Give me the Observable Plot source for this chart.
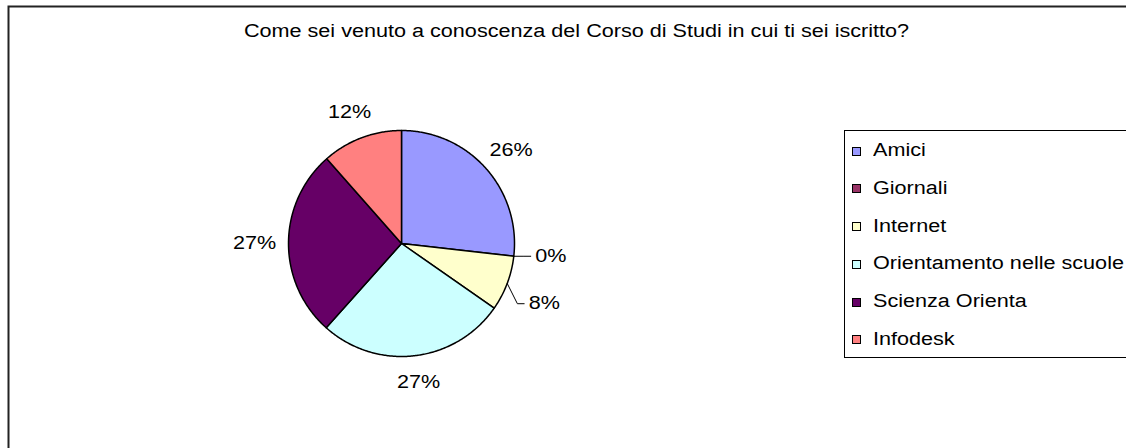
<!DOCTYPE html>
<html>
<head>
<meta charset="utf-8">
<script src="https://cdn.jsdelivr.net/npm/d3@7"></script>
<script src="https://cdn.jsdelivr.net/npm/@observablehq/plot@0.6"></script>
<style>
  body { margin: 0; background: #fff; }
  #wrap { position: relative; width: 1126px; height: 448px; overflow: hidden; background: #fff;
          font-family: "Liberation Sans", Arial, sans-serif; }
  #wrap svg { position: absolute; left: 0; top: 0; overflow: visible; }
  #legend { position: absolute; left: 844px; top: 130px; width: 320px; height: 225px;
            border: 1px solid #000; background: #fff; padding-top: 1px; box-sizing: content-box; }
  .row { position: relative; height: 37.8px; line-height: 37.8px; white-space: nowrap; }
  .sw { position: absolute; left: 7px; top: 14.5px; width: 7px; height: 7px; border: 1px solid #000; }
  .lbl { position: absolute; left: 28px; top: 0; font-size: 18px; color: #000;
         display: inline-block; transform: scaleX(1.2); transform-origin: left center; }
</style>
</head>
<body>
<div id="wrap"><div id="legend"></div></div>
<script>
const title = "Come sei venuto a conoscenza del Corso di Studi in cui ti sei iscritto?";
const categories = ["Amici", "Giornali", "Internet", "Orientamento nelle scuole", "Scienza Orienta", "Infodesk"];
const values = [26.8, 0, 7.9, 26.9, 26.9, 11.5];
const pctLabels = ["26%", "0%", "8%", "27%", "27%", "12%"];
const colors = ["#9999FF", "#993366", "#FFFFCC", "#CCFFFF", "#660066", "#FF8080"];

// layout
const W = 1126, H = 448, CX = 401, CY = 243, R = 113;
const STRETCH = 1.2;

const arcs = d3.pie().sort(null).value(d => d)(values);

// slice polygons (unit radius, y up)
const polys = [];
arcs.forEach((a, i) => {
  if (a.endAngle - a.startAngle <= 0) return;
  const n = Math.max(2, Math.ceil((a.endAngle - a.startAngle) / 0.01));
  polys.push({cat: categories[i], x: 0, y: 0});
  for (let k = 0; k <= n; k++) {
    const t = a.startAngle + (a.endAngle - a.startAngle) * k / n;
    polys.push({cat: categories[i], x: Math.sin(t), y: Math.cos(t)});
  }
  polys.push({cat: categories[i], x: 0, y: 0});
});

// labels
const bigLabels = [], smallLabels = [], leaders = [];
let lastSmallY = Infinity;
arcs.forEach((a, i) => {
  const mid = (a.startAngle + a.endAngle) / 2;
  if (values[i] >= 10) {
    bigLabels.push({x: 1.3 * Math.sin(mid), y: 1.24 * Math.cos(mid), text: pctLabels[i]});
  } else {
    const px = Math.sin(mid), py = Math.cos(mid);
    let ly = py;
    if (lastSmallY - ly < 0.42) ly = lastSmallY - 0.42;
    lastSmallY = ly;
    const lx = px + 0.19;
    smallLabels.push({x: lx, y: ly, text: pctLabels[i]});
    leaders.push({id: i, x: px, y: py}, {id: i, x: lx - 0.1, y: ly}, {id: i, x: lx - 0.04, y: ly});
  }
});

const chart = Plot.plot({
  width: W, height: H, margin: 0,
  x: {domain: [-CX / R, (W - CX) / R], axis: null},
  y: {domain: [-(H - CY) / R, CY / R], axis: null},
  color: {domain: categories, range: colors},
  style: {background: "transparent", overflow: "visible", fontFamily: "Liberation Sans, Arial, sans-serif"},
  marks: [
    Plot.frame({stroke: "#222", strokeWidth: 2, insetLeft: 8, insetTop: 6, insetRight: -30, insetBottom: -30}),
    Plot.line(polys, {x: "x", y: "y", z: "cat", fill: "cat", stroke: "#000", strokeWidth: 1.5,
                      strokeLinejoin: "round", strokeLinecap: "round"}),
    Plot.line(leaders, {x: "x", y: "y", z: "id", stroke: "#000", strokeWidth: 1}),
    Plot.text(bigLabels, {x: "x", y: "y", text: "text", fontSize: 18, fill: "#000", textAnchor: "middle", lineAnchor: "middle"}),
    Plot.text(smallLabels, {x: "x", y: "y", text: "text", fontSize: 18, fill: "#000", textAnchor: "start", lineAnchor: "middle"}),
    Plot.text([title], {frameAnchor: "top", text: d => d, dx: 13, dy: 31, fontSize: 18, fill: "#000", lineAnchor: "middle"})
  ]
});

const wrap = document.getElementById("wrap");
wrap.insertBefore(chart, wrap.firstChild);

// horizontal stretch of svg text to match the reference rendering
chart.querySelectorAll("text").forEach(t => {
  const len = t.getComputedTextLength();
  if (len > 0) {
    t.setAttribute("textLength", len * STRETCH);
    t.setAttribute("lengthAdjust", "spacingAndGlyphs");
  }
});

// legend
const legend = document.getElementById("legend");
categories.forEach((c, i) => {
  const row = document.createElement("div");
  row.className = "row";
  const sw = document.createElement("div");
  sw.className = "sw";
  sw.style.background = colors[i];
  const lb = document.createElement("span");
  lb.className = "lbl";
  lb.textContent = c;
  row.appendChild(sw);
  row.appendChild(lb);
  legend.appendChild(row);
});
</script>
</body>
</html>
